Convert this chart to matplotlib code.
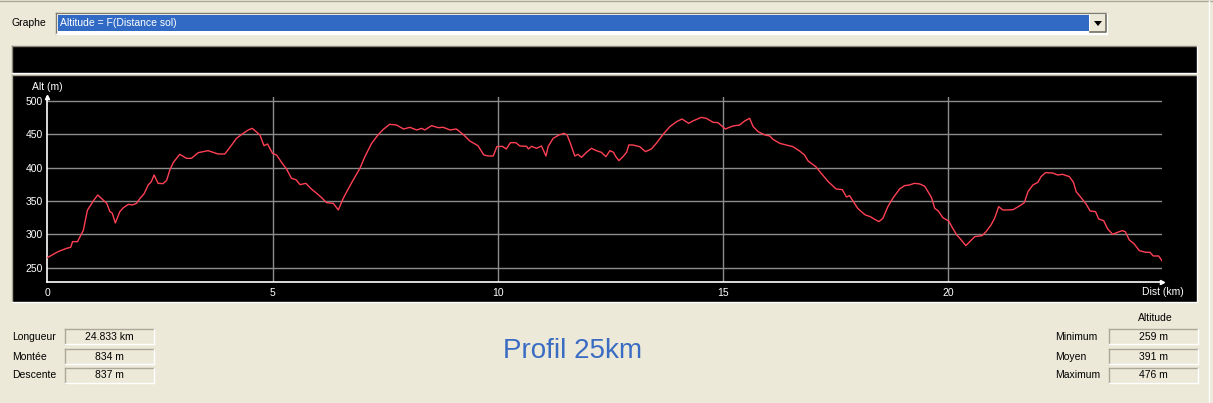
import matplotlib
matplotlib.use("Agg")
import matplotlib.pyplot as plt
from matplotlib.patches import Rectangle, Polygon

plt.rcParams["font.family"] = ["Liberation Sans", "DejaVu Sans"]

# elevation profile (km, m)
dist_km = [
    0.00, 0.24, 0.43, 0.52, 0.56, 0.67, 0.80, 0.89, 1.02, 1.12, 1.24, 1.32, 1.39, 1.44,
    1.51, 1.61, 1.69, 1.80, 1.89, 1.98, 2.06, 2.15, 2.24, 2.31, 2.37, 2.46, 2.57, 2.65,
    2.72, 2.80, 2.94, 3.09, 3.20, 3.35, 3.57, 3.79, 3.94, 4.05, 4.20, 4.35, 4.46, 4.55,
    4.65, 4.72, 4.81, 4.89, 5.00, 5.09, 5.20, 5.31, 5.42, 5.52, 5.61, 5.74, 5.87, 5.98,
    6.09, 6.20, 6.35, 6.46, 6.57, 6.68, 6.79, 6.94, 7.05, 7.20, 7.34, 7.46, 7.60, 7.75,
    7.91, 8.05, 8.20, 8.31, 8.38, 8.53, 8.68, 8.79, 8.94, 9.08, 9.23, 9.38, 9.56, 9.69,
    9.79, 9.90, 9.98, 10.10, 10.19, 10.28, 10.40, 10.49, 10.64, 10.68, 10.75, 10.86,
    10.97, 11.07, 11.12, 11.23, 11.36, 11.47, 11.54, 11.62, 11.71, 11.78, 11.86, 11.97,
    12.08, 12.19, 12.30, 12.40, 12.49, 12.57, 12.62, 12.69, 12.78, 12.86, 12.91, 13.00,
    13.15, 13.28, 13.41, 13.52, 13.67, 13.82, 13.97, 14.09, 14.24, 14.33, 14.52, 14.63,
    14.78, 14.89, 15.05, 15.22, 15.37, 15.48, 15.59, 15.67, 15.78, 15.93, 16.04, 16.11,
    16.26, 16.41, 16.55, 16.70, 16.81, 16.89, 17.06, 17.18, 17.33, 17.51, 17.65, 17.74,
    17.81, 17.88, 17.99, 18.07, 18.16, 18.27, 18.33, 18.46, 18.55, 18.66, 18.77, 18.92,
    19.03, 19.14, 19.25, 19.37, 19.48, 19.55, 19.63, 19.70, 19.78, 19.88, 20.01, 20.10,
    20.19, 20.29, 20.39, 20.48, 20.59, 20.75, 20.84, 20.95, 21.03, 21.12, 21.21, 21.32,
    21.44, 21.58, 21.69, 21.77, 21.88, 21.99, 22.06, 22.16, 22.32, 22.43, 22.54, 22.69,
    22.78, 22.84, 22.95, 23.06, 23.15, 23.27, 23.34, 23.45, 23.54, 23.65, 23.76, 23.86,
    23.93, 24.02, 24.13, 24.24, 24.38, 24.48, 24.55, 24.67, 24.75,
]
alt_m = [
    265, 274, 279, 280.5, 289, 289, 306, 336, 350, 359, 351.5, 346.5, 334, 332,
    317, 334, 340, 345, 344, 346.5, 354, 361, 374, 379, 389, 376.5, 376, 381,
    396.5, 408, 420, 414, 414, 422.5, 425.5, 420.5, 420.5, 430, 444, 451.5, 456.5, 459,
    453, 449, 433, 435.5, 421.5, 419, 408, 398, 384, 382, 374.5, 376.5, 367.5, 361.5,
    355, 347.5, 346.5, 336.5, 354, 368, 381.5, 399, 416.5, 436.5, 449, 457.5, 465, 464,
    458, 460.5, 456.5, 459, 456.5, 463, 460, 460.5, 456.5, 458, 450, 440, 433, 419,
    417.5, 417.5, 431.5, 432, 428, 437.5, 437.5, 432.5, 432, 428, 432, 429,
    432.5, 417.5, 432, 444, 449, 451.5, 449, 435, 417.5, 420, 415.5, 423,
    429, 425.5, 423, 416.5, 425.5, 423, 416.5, 410.5, 416.5, 423, 434, 434,
    431.5, 424, 428, 436.5, 450, 461.5, 469, 473, 466.5, 470, 475.5, 474,
    468, 467.5, 458, 462.5, 464, 470, 474, 461.5, 454, 449, 447.5, 442.5,
    436.5, 434, 431.5, 425, 419, 410, 401.5, 391.5, 379.5, 368, 367, 356,
    358, 350.5, 339, 334, 329, 326.5, 324, 319, 324, 341.5, 354, 368,
    373, 374, 376.5, 375.5, 372, 364, 355, 339, 335, 325, 320, 309,
    299, 291.5, 283, 289, 296.5, 298, 304, 314, 324, 341.5, 336.5, 336.5,
    337, 342.5, 347.5, 364, 374, 378, 386.5, 392.5, 392, 389, 390, 386.5,
    378, 364, 355, 345.5, 335, 334, 323, 320.5, 308, 300, 303, 305.5,
    304, 291.5, 285.5, 275.5, 273, 273, 267.5, 267.5, 260,
]

x_ticks = [0, 5, 10, 15, 20]
y_ticks = [250, 300, 350, 400, 450, 500]

stats_left = [("Longueur", "24.833 km"), ("Montée", "834 m"), ("Descente", "837 m")]
stats_right = [("Minimum", "259 m"), ("Moyen", "391 m"), ("Maximum", "476 m")]

BG = "#ECE9D8"
SHADOW = "#ACA899"
W, H = 1213, 403

fig = plt.figure(figsize=(W / 100, H / 100), dpi=100, facecolor=BG)

# GUI background drawn in pixel coordinates
bg = fig.add_axes([0, 0, 1, 1])
bg.set_xlim(0, W)
bg.set_ylim(H, 0)
bg.axis("off")


def rect(x, y, w, h, color, **kw):
    bg.add_patch(Rectangle((x, y), w, h, facecolor=color, edgecolor="none", **kw))


def sunken(x, y, w, h, face=BG, dark=SHADOW):
    rect(x, y, w, h, face)
    bg.plot([x, x + w], [y, y], color=dark, lw=1)
    bg.plot([x, x], [y, y + h], color=dark, lw=1)
    bg.plot([x, x + w], [y + h, y + h], color="white", lw=1)
    bg.plot([x + w, x + w], [y, y + h], color="white", lw=1)


bg.plot([0, W], [1, 1], color=SHADOW, lw=1)
bg.plot([1209, 1209], [1, H], color="white", lw=1)

# combo box
bg.text(12, 23.5, "Graphe", fontsize=7.5, va="center", ha="left", color="black")
sunken(56, 13, 1051, 21, face="white", dark="#7F7C6F")
rect(58, 15, 1031, 16, "#316AC5")
bg.text(60, 23.5, "Altitude = F(Distance sol)", fontsize=7.5, va="center", ha="left", color="white")
rect(1090, 15, 16, 17, BG)
bg.plot([1090, 1106, 1106], [32, 32, 15], color="#716F64", lw=1.2)
bg.add_patch(Polygon([[1094, 21], [1102, 21], [1098, 26]], closed=True, facecolor="black", edgecolor="none"))

# black panels
sunken(12, 46, 1185, 27, face="black", dark="#8A877A")
sunken(12, 75, 1185, 227, face="black", dark="#ACA899")

# profile axes
left_px, right_px, top_px, bottom_px = 47.3, 1162.2, 97.0, 282.3
ax = fig.add_axes([left_px / W, 1 - bottom_px / H, (right_px - left_px) / W, (bottom_px - top_px) / H])
ax.set_facecolor("none")
ax.plot(dist_km, alt_m, color="#FF4055", lw=1.0, zorder=3)
ax.set_xlim(0, 24.75)
ax.set_ylim(228, 506)
ax.set_xticks(x_ticks)
ax.set_yticks(y_ticks)
ax.set_xticklabels([str(t) for t in x_ticks])
ax.set_yticklabels([str(t) for t in y_ticks])
ax.tick_params(length=0, colors="white", labelsize=7.5, pad=3)
ax.tick_params(axis="x", pad=4)
ax.grid(True, color="#8C8C8C", lw=1.0, zorder=1)
for g in ax.get_xgridlines()[:1]:
    g.set_visible(False)
for side in ("top", "right"):
    ax.spines[side].set_visible(False)
for side in ("left", "bottom"):
    ax.spines[side].set_color("white")
    ax.spines[side].set_linewidth(1.2)
ax.plot([0], [1], marker="^", ms=3, color="white", transform=ax.transAxes, clip_on=False)
ax.plot([1], [0], marker=">", ms=3, color="white", transform=ax.transAxes, clip_on=False)
ax.text(-0.0137, 1.054, "Alt (m)", transform=ax.transAxes, color="white", fontsize=7.5, va="center", ha="left")
ax.text(0.982, -0.05, "Dist (km)", transform=ax.transAxes, color="white", fontsize=7.5, va="center", ha="left")

# stats boxes
rows_y = [329, 349, 368]
for (label, value), y in zip(stats_left, rows_y):
    bg.text(12, y + 7.5, label, fontsize=7.5, va="center", ha="left", color="black")
    sunken(65, y, 89, 15)
    bg.text(65 + 44.5, y + 7.5, value, fontsize=7.5, va="center", ha="center", color="black")

bg.text(1155.5, 318, "Altitude", fontsize=7.5, va="center", ha="center", color="black")
for (label, value), y in zip(stats_right, rows_y):
    bg.text(1055, y + 7.5, label, fontsize=7.5, va="center", ha="left", color="black")
    sunken(1109, y, 89, 15)
    bg.text(1109 + 44.5, y + 7.5, value, fontsize=7.5, va="center", ha="center", color="black")

bg.text(573, 351, "Profil 25km", fontsize=20, va="center", ha="center", color="#3A6CC4")

fig.savefig("out.png", dpi=100, facecolor=BG)
